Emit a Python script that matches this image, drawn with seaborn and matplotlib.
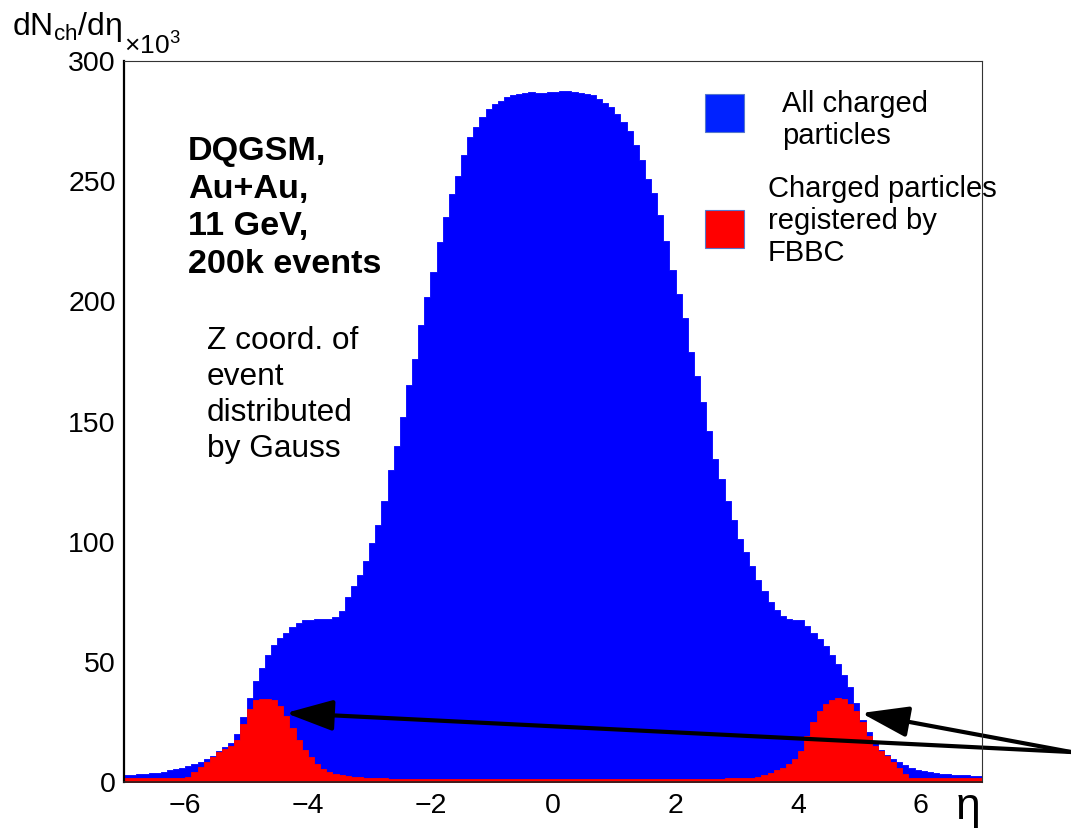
import numpy as np
import pandas as pd
import matplotlib
matplotlib.use("Agg")
import matplotlib.pyplot as plt
import seaborn as sns
from matplotlib.patches import Rectangle
from matplotlib.ticker import MultipleLocator

# pseudorapidity binning
eta_lo, eta_hi, n_bins = -7.0, 7.0, 140

# dN_ch/deta (in units of 10^3), all charged particles
all_charged = [
    2.9, 3.0, 3.2, 3.4, 3.6, 3.9, 4.3, 4.8, 5.3, 6.0,
    6.7, 7.4, 8.3, 9.5, 11.0, 12.8, 14.5, 16.3, 20.0, 27.0,
    35.0, 42.0, 47.5, 53.0, 57.0, 60.0, 62.0, 64.5, 66.2, 67.4,
    67.6, 67.8, 67.8, 68.0, 68.5, 71.0, 77.0, 81.5, 86.0, 92.0,
    99.5, 107, 117, 130, 140, 152, 165, 176, 190, 202,
    212, 224.5, 235, 244.5, 252, 261, 268.5, 272.5, 276.5, 280,
    282, 283.5, 285, 285.8, 286.2, 286.5, 287, 286.5, 286.6, 287,
    287.2, 287.5, 287.5, 287.3, 286.6, 286.2, 285.8, 284, 282.5, 281,
    278, 274.5, 271, 265, 259, 251, 245, 236, 225, 213,
    203, 193, 179, 169, 158, 146, 134.5, 126, 117, 109,
    101, 95.5, 90, 84, 79.5, 75, 71.5, 69, 68, 67.6,
    67.4, 65, 62, 59.5, 56.5, 53, 49, 44.5, 39.5, 33,
    26, 21, 17, 13.5, 11.3, 9.7, 8.3, 7.0, 5.9, 5.1,
    4.6, 4.2, 3.8, 3.5, 3.3, 3.1, 2.9, 2.8, 2.6, 2.5,
]

# charged particles registered by FBBC
fbbc = [
    1.6, 1.6, 1.7, 1.6, 1.6, 1.7, 1.6, 1.6, 1.7, 1.8,
    2.2, 4.0, 6.2, 8.2, 10.3, 12.3, 13.6, 15.0, 17.5, 24.0,
    30.5, 34.0, 34.6, 34.6, 34.0, 31.5, 27.5, 22.5, 17.5, 13.5,
    10.5, 7.5, 5.5, 4.0, 3.2, 2.8, 2.4, 2.1, 1.9, 1.7,
    1.6, 1.5, 1.5, 1.4, 1.4, 1.4, 1.3, 1.3, 1.3, 1.3,
    1.3, 1.2, 1.2, 1.2, 1.2, 1.2, 1.2, 1.2, 1.2, 1.2,
    1.2, 1.2, 1.2, 1.2, 1.2, 1.2, 1.2, 1.2, 1.2, 1.2,
    1.2, 1.2, 1.2, 1.2, 1.2, 1.2, 1.2, 1.2, 1.2, 1.2,
    1.2, 1.2, 1.2, 1.2, 1.2, 1.2, 1.2, 1.2, 1.2, 1.2,
    1.2, 1.2, 1.3, 1.3, 1.3, 1.3, 1.4, 1.4, 1.5, 1.5,
    1.6, 1.7, 1.8, 2.2, 3.0, 3.8, 5.0, 6.0, 7.5, 9.5,
    13.0, 19.0, 25.0, 29.5, 32.5, 34.3, 34.8, 34.6, 32.5, 29.5,
    25.0, 19.0, 15.0, 12.8, 11.0, 8.5, 6.0, 3.5, 1.8, 1.5,
    1.5, 1.5, 1.5, 1.5, 1.5, 1.5, 1.5, 1.5, 1.5, 1.5,
]

x_ticks = [-6, -4, -2, 0, 2, 4, 6]
y_ticks = [0, 50, 100, 150, 200, 250, 300]

info_bold = "DQGSM,\nAu+Au,\n11 GeV,\n200k events"
info_note = "Z coord. of\nevent\ndistributed\nby Gauss"
legend_labels = ["All charged\nparticles", "Charged particles\nregistered by\nFBBC"]

BLUE = "#0000ff"
RED = "#ff0000"

sns.set_style("white")
plt.rcParams["font.family"] = ["Liberation Sans", "DejaVu Sans"]
plt.rcParams["axes.unicode_minus"] = True
plt.rcParams["text.color"] = "black"
plt.rcParams["xtick.color"] = "black"
plt.rcParams["ytick.color"] = "black"

W, H = 1071, 832
fig = plt.figure(figsize=(W / 100, H / 100), dpi=100)
ax = fig.add_axes([124 / W, 1 - 782 / H, (982 - 124) / W, (782 - 61) / H])

bin_width = (eta_hi - eta_lo) / n_bins
centers = eta_lo + bin_width * (np.arange(n_bins) + 0.5)
df = pd.DataFrame({"eta": centers, "all": all_charged, "fbbc": fbbc})

sns.histplot(data=df, x="eta", weights="all", binwidth=bin_width,
             binrange=(eta_lo, eta_hi), element="step", fill=True,
             color=BLUE, alpha=1.0, linewidth=0.6, edgecolor=BLUE, ax=ax)
sns.histplot(data=df, x="eta", weights="fbbc", binwidth=bin_width,
             binrange=(eta_lo, eta_hi), element="step", fill=True,
             color=RED, alpha=1.0, linewidth=0.6, edgecolor=RED, ax=ax)

ax.set_xlim(eta_lo, eta_hi)
ax.set_ylim(0, 300)
ax.set_xlabel("")
ax.set_ylabel("")
ax.set_axisbelow(False)

ax.set_xticks(x_ticks)
ax.set_yticks(y_ticks)
ax.xaxis.set_minor_locator(MultipleLocator(0.5))
ax.yaxis.set_minor_locator(MultipleLocator(10))
ax.tick_params(axis="both", which="both", direction="in", colors="black",
               labelcolor="black", labelsize=20.5, top=False, right=False)
ax.tick_params(axis="x", which="major", length=14, width=1.3, pad=8)
ax.tick_params(axis="x", which="minor", length=7, width=1.1)
ax.tick_params(axis="y", which="major", length=19, width=1.3, pad=6)
ax.tick_params(axis="y", which="minor", length=10, width=1.1)

for side in ["top", "right"]:
    ax.spines[side].set_linewidth(0.8)
    ax.spines[side].set_color("#333333")
ax.spines["left"].set_linewidth(1.6)
ax.spines["left"].set_color("black")
ax.spines["bottom"].set_linewidth(1.2)
ax.spines["bottom"].set_color("#222222")
for sp in ax.spines.values():
    sp.set_zorder(5)

# axis titles in ROOT fashion
fig.text(12 / W, 1 - 27 / H, r"dN$_{\mathregular{ch}}$/dη", fontsize=23,
         ha="left", va="center")
fig.text(124 / W, 1 - 45 / H, r"×10$^{\mathregular{3}}$", fontsize=19,
         ha="left", va="center")
fig.text(968 / W, 1 - 808 / H, "η", fontsize=32, ha="center", va="center")

# annotations
fig.text(188 / W, 1 - 208 / H, info_bold, fontsize=24.6, fontweight="bold",
         ha="left", va="center", linespacing=1.29)
fig.text(207 / W, 1 - 395 / H, info_note, fontsize=22.8,
         ha="left", va="center", linespacing=1.27)

# legend
fig.patches.append(Rectangle((705 / W, 1 - 132 / H), 39 / W, 38 / H,
                             transform=fig.transFigure, facecolor="#0022ff",
                             edgecolor="#5577cc", linewidth=0.8))
fig.patches.append(Rectangle((705 / W, 1 - 248 / H), 39 / W, 38 / H,
                             transform=fig.transFigure, facecolor=RED,
                             edgecolor="#5577cc", linewidth=0.8))
fig.text(782 / W, 1 - 120 / H, legend_labels[0], fontsize=21,
         ha="left", va="center", linespacing=1.2)
fig.text(768 / W, 1 - 221 / H, legend_labels[1], fontsize=21,
         ha="left", va="center", linespacing=1.2)

# arrows pointing to the FBBC acceptance peaks
tail = (1.0, 1 - 752 / H)
for head in [(-4.36, 28.7), (5.03, 28.7)]:
    ax.annotate("", xy=head, xycoords="data", xytext=tail,
                textcoords="figure fraction", annotation_clip=False,
                arrowprops=dict(arrowstyle="-|>,head_length=29,head_width=9.5",
                                mutation_scale=1, lw=3, color="black",
                                shrinkA=0, shrinkB=0, clip_on=False))

fig.savefig("out.png", dpi=100)
